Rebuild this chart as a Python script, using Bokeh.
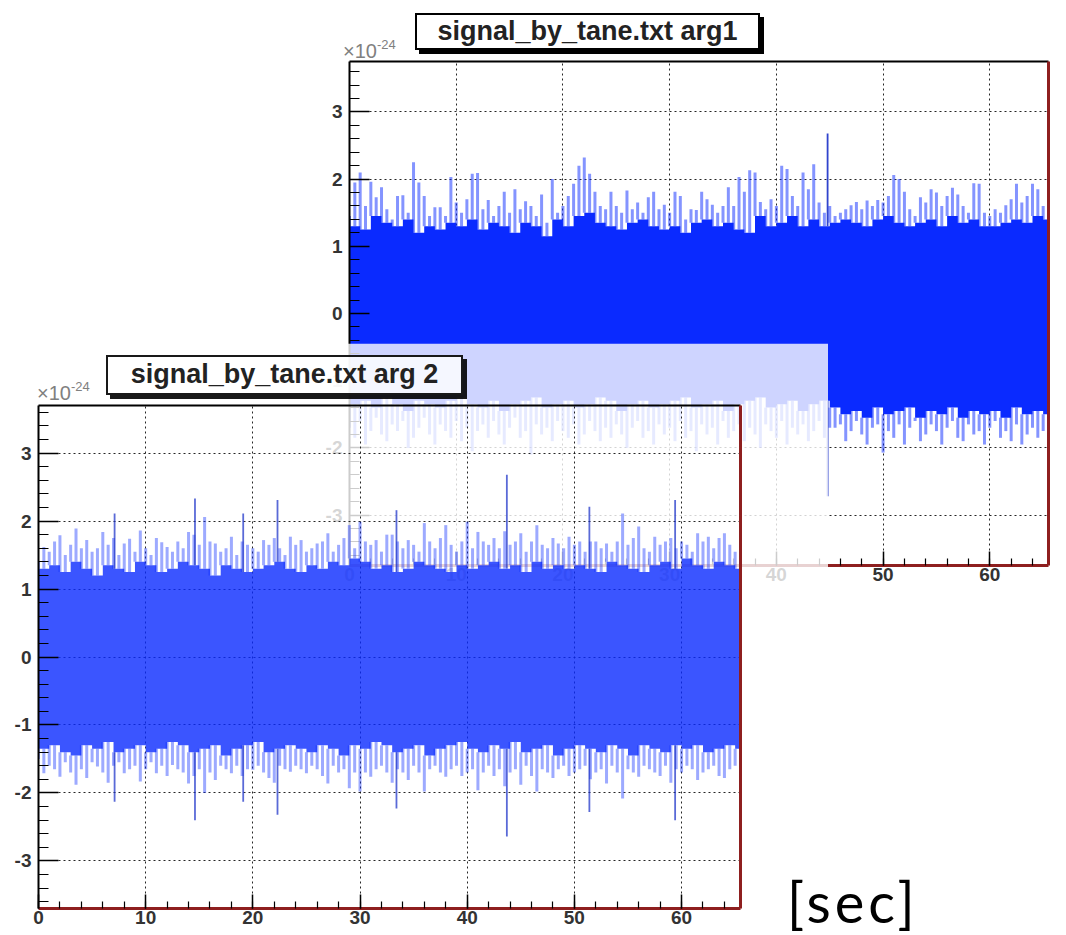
import numpy as np
from bokeh.plotting import figure
from bokeh.models import (Range1d, LinearAxis, SingleIntervalTicker, FixedTicker, Div,
                          CustomJSTickFormatter)
from bokeh.layouts import column, row
from bokeh.embed import file_html
from bokeh.resources import INLINE

# ---------------- data (amplitude in units of 1e-24, time in sec) ----------------
peak_times = np.arange(0, 65.01, 0.5)      # 131 envelope samples

arg1_upper_peak = [
    1.45, 1.95, 2.10, 1.60, 1.96, 1.73, 1.88, 1.55, 1.40, 1.75,
    1.76, 1.50, 2.25, 1.95, 1.75, 1.45, 1.58, 1.58, 1.45, 2.03,
    1.65, 1.50, 1.70, 2.08, 2.09, 1.55, 1.69, 1.45, 1.60, 1.81,
    1.50, 1.85, 1.55, 1.67, 1.60, 1.45, 1.77, 1.35, 2.00, 1.50,
    1.60, 1.75, 1.93, 2.20, 2.32, 2.08, 1.81, 1.60, 1.55, 1.81,
    1.60, 1.50, 1.83, 1.55, 1.65, 1.50, 1.73, 1.81, 1.55, 1.62,
    1.50, 1.81, 1.75, 1.40, 1.55, 1.54, 1.81, 1.70, 1.62, 1.50,
    1.60, 1.88, 1.60, 2.03, 1.81, 2.13, 2.10, 1.66, 1.55, 1.70,
    1.60, 2.20, 2.15, 1.75, 1.60, 2.10, 1.85, 2.22, 1.65, 1.50,
    1.60, 1.45, 1.50, 1.55, 1.61, 1.66, 1.55, 1.68, 1.60, 1.69,
    1.65, 1.75, 2.06, 2.00, 1.81, 1.55, 1.45, 1.73, 1.65, 1.85,
    1.80, 1.60, 1.75, 1.87, 1.77, 1.60, 1.50, 1.94, 1.93, 1.50,
    1.45, 1.55, 1.50, 1.61, 1.70, 1.93, 1.65, 1.75, 1.93, 1.85,
    1.60]
arg1_lower_peak = [
    -1.70, -1.85, -1.60, -1.95, -1.75, -1.55, -1.80, -1.90, -1.65, -1.75,
    -1.60, -2.00, -1.85, -1.70, -1.55, -1.80, -1.95, -1.65, -1.75, -1.85,
    -1.60, -1.90, -1.70, -2.05, -1.75, -1.65, -1.85, -1.60, -1.80, -1.95,
    -1.70, -1.55, -1.85, -1.75, -2.10, -1.65, -1.80, -1.70, -1.90, -1.60,
    -1.75, -1.85, -1.65, -1.95, -1.80, -1.60, -1.75, -1.90, -1.70, -1.85,
    -1.65, -1.80, -2.00, -1.70, -1.60, -1.85, -1.75, -1.95, -1.65, -1.80,
    -1.70, -1.90, -1.60, -1.85, -1.75, -2.05, -1.65, -1.80, -1.70, -1.95,
    -1.60, -1.85, -1.75, -1.65, -1.90, -1.70, -1.80, -2.00, -1.65, -1.75,
    -1.85, -1.60, -1.95, -1.70, -1.80, -1.65, -1.90, -1.75, -1.60, -1.85,
    -1.70, -1.70, -1.65, -1.90, -1.75, -1.60, -1.80, -1.95, -1.70, -1.65,
    -2.07, -1.75, -1.85, -1.65, -1.95, -1.70, -1.60, -1.90, -1.80, -1.65,
    -1.75, -1.95, -1.70, -1.60, -1.85, -1.90, -1.65, -1.80, -1.75, -1.95,
    -1.70, -1.60, -1.85, -1.75, -1.90, -1.65, -1.95, -1.80, -1.70, -1.85,
    -1.75]
arg1_upper_core = [
    1.30, 1.25, 1.45, 1.35, 1.30, 1.40, 1.20, 1.30, 1.25, 1.35,
    1.30, 1.40, 1.25, 1.35, 1.30, 1.20, 1.35, 1.30, 1.15, 1.40,
    1.30, 1.45, 1.50, 1.35, 1.30, 1.25, 1.35, 1.40, 1.30, 1.25,
    1.30, 1.20, 1.35, 1.40, 1.30, 1.35, 1.25, 1.20, 1.45, 1.30,
    1.35, 1.45, 1.30, 1.40, 1.30, 1.35, 1.40, 1.35, 1.30, 1.40,
    1.45, 1.35, 1.30, 1.35, 1.40, 1.30, 1.45, 1.35, 1.40, 1.30,
    1.30, 1.35, 1.40, 1.35, 1.45, 1.40]
arg1_lower_core = [
    -1.35, -1.30, -1.40, -1.25, -1.35, -1.45, -1.30, -1.35, -1.40, -1.30,
    -1.25, -1.35, -1.40, -1.30, -1.45, -1.35, -1.30, -1.25, -1.40, -1.35,
    -1.30, -1.40, -1.35, -1.25, -1.30, -1.45, -1.35, -1.30, -1.40, -1.35,
    -1.30, -1.25, -1.40, -1.35, -1.30, -1.45, -1.35, -1.30, -1.25, -1.40,
    -1.35, -1.30, -1.45, -1.35, -1.30, -1.40, -1.50, -1.45, -1.55, -1.40,
    -1.50, -1.45, -1.40, -1.55, -1.45, -1.50, -1.40, -1.55, -1.45, -1.50,
    -1.45, -1.55, -1.40, -1.50, -1.45, -1.50]
arg1_spike_t = [44.8]
arg1_spike_hi = [2.68]
arg1_spike_lo = [-2.72]

arg2_upper_peak = [
    1.40, 1.62, 1.55, 1.70, 1.79, 1.50, 1.65, 1.89, 1.60, 1.72,
    1.55, 1.60, 1.84, 1.65, 1.75, 1.50, 1.67, 1.74, 1.55, 1.86,
    1.60, 1.50, 1.75, 1.69, 1.62, 1.55, 1.70, 1.60, 1.84, 1.80,
    1.65, 2.06, 1.70, 1.67, 1.55, 1.60, 1.77, 1.50, 1.70, 1.65,
    1.60, 1.55, 1.72, 1.65, 1.75, 1.60, 1.50, 1.77, 1.65, 1.72,
    1.55, 1.60, 1.67, 1.70, 1.82, 1.55, 1.65, 1.75, 1.94, 1.60,
    1.99, 1.70, 1.65, 1.72, 1.55, 1.80, 1.80, 1.70, 1.60, 1.72,
    1.65, 1.55, 1.97, 1.70, 1.60, 1.75, 1.94, 1.65, 1.55, 1.70,
    1.99, 1.60, 1.84, 1.70, 1.65, 1.75, 1.60, 1.85, 1.65, 1.70,
    1.82, 1.55, 1.70, 1.94, 1.65, 1.60, 1.75, 1.67, 1.60, 1.77,
    1.65, 1.70, 1.55, 1.70, 1.70, 1.60, 1.67, 1.55, 1.70, 2.11,
    1.65, 1.75, 1.92, 1.60, 1.55, 1.77, 1.65, 1.70, 1.75, 1.60,
    1.70, 1.65, 1.55, 1.82, 1.70, 1.77, 1.60, 1.75, 1.82, 1.65,
    1.55]
arg2_lower_peak = [
    -1.50, -1.71, -1.60, -1.65, -1.76, -1.55, -1.70, -1.88, -1.65, -1.78,
    -1.55, -1.61, -1.70, -1.85, -1.60, -1.55, -1.71, -1.65, -1.60, -1.83,
    -1.65, -1.55, -1.71, -1.60, -1.75, -1.59, -1.65, -1.70, -1.86, -1.75,
    -1.65, -2.00, -1.70, -1.81, -1.60, -1.65, -1.71, -1.60, -1.75, -1.65,
    -1.66, -1.60, -1.70, -1.78, -1.85, -1.60, -1.65, -1.69, -1.60, -1.65,
    -1.71, -1.60, -1.65, -1.75, -1.86, -1.60, -1.70, -1.65, -1.93, -1.70,
    -1.98, -1.70, -1.76, -1.65, -1.60, -1.70, -1.85, -1.65, -1.70, -1.81,
    -1.60, -1.70, -1.98, -1.65, -1.60, -1.70, -1.76, -1.65, -1.60, -1.75,
    -1.70, -1.65, -1.96, -1.70, -1.60, -1.75, -1.65, -1.90, -1.70, -1.65,
    -1.88, -1.60, -1.75, -1.98, -1.65, -1.70, -1.78, -1.65, -1.60, -1.75,
    -1.70, -1.65, -1.60, -1.80, -1.70, -1.65, -1.86, -1.60, -1.70, -2.08,
    -1.65, -1.70, -1.76, -1.60, -1.65, -1.70, -1.75, -1.60, -1.85, -1.65,
    -1.70, -1.60, -1.65, -1.81, -1.70, -1.65, -1.60, -1.75, -1.78, -1.65,
    -1.60]
arg2_upper_core = [
    1.30, 1.35, 1.25, 1.40, 1.30, 1.20, 1.35, 1.30, 1.25, 1.40,
    1.35, 1.25, 1.30, 1.40, 1.35, 1.30, 1.20, 1.35, 1.30, 1.25,
    1.30, 1.35, 1.40, 1.30, 1.25, 1.35, 1.30, 1.40, 1.35, 1.45,
    1.40, 1.30, 1.35, 1.25, 1.30, 1.40, 1.35, 1.30, 1.25, 1.35,
    1.30, 1.35, 1.40, 1.30, 1.35, 1.25, 1.40, 1.30, 1.35, 1.30,
    1.35, 1.30, 1.25, 1.40, 1.35, 1.30, 1.25, 1.35, 1.40, 1.30,
    1.45, 1.35, 1.30, 1.40, 1.35, 1.30]
arg2_lower_core = [
    -1.35, -1.30, -1.40, -1.45, -1.30, -1.35, -1.25, -1.40, -1.35, -1.30,
    -1.40, -1.35, -1.25, -1.30, -1.40, -1.35, -1.30, -1.45, -1.35, -1.30,
    -1.25, -1.40, -1.35, -1.30, -1.35, -1.40, -1.30, -1.35, -1.45, -1.30,
    -1.35, -1.25, -1.30, -1.40, -1.35, -1.30, -1.45, -1.35, -1.30, -1.25,
    -1.35, -1.40, -1.30, -1.35, -1.25, -1.40, -1.35, -1.30, -1.45, -1.35,
    -1.30, -1.35, -1.40, -1.30, -1.35, -1.45, -1.30, -1.35, -1.40, -1.30,
    -1.35, -1.30, -1.40, -1.35, -1.30, -1.35]
arg2_spike_t = [7.1, 14.6, 19.1, 22.3, 33.4, 43.7, 51.4, 59.4]
arg2_spike_hi = [2.11, 2.33, 2.11, 2.31, 2.16, 2.68, 2.21, 2.31]
arg2_spike_lo = [-2.13, -2.40, -2.13, -2.32, -2.23, -2.64, -2.28, -2.40]

titles = ["signal_by_tane.txt arg1", "signal_by_tane.txt arg 2"]
exponent_base = "\u00d710"
exponent_power = "-24"
unit_text = "[sec]"

# ---------------- styling ----------------
BLUE = "#0a2aff"
SPIKE = "#1a30c8"
RED = "#8e1f1f"
FONT = "Liberation Sans"
X_MAX = 65.5


def steps(vals):
    edges = np.arange(len(vals) + 1)
    xs = np.repeat(edges, 2)[1:-1]
    ys = np.repeat(np.asarray(vals, dtype=float), 2)
    return xs, ys


def make_panel(up, lo, cu, cl, st, sh, sl, y_lim, w, h, borders, alpha):
    bl, br, bt, bb = borders
    p = figure(width=w, height=h, x_range=Range1d(0, X_MAX), y_range=Range1d(-y_lim, y_lim),
               output_backend="svg", toolbar_location=None, title=None,
               min_border_left=bl, min_border_right=br, min_border_top=bt, min_border_bottom=bb)
    p.outline_line_color = None
    p.background_fill_color = "white"
    p.background_fill_alpha = alpha
    p.border_fill_color = "white"
    p.border_fill_alpha = alpha

    xa = p.xaxis[0]
    ya = p.yaxis[0]
    xa.ticker = SingleIntervalTicker(interval=10, num_minor_ticks=5)
    ya.ticker = SingleIntervalTicker(interval=1, num_minor_ticks=5)
    fmt = CustomJSTickFormatter(code="return tick.toFixed(0);")
    for ax, tin, mtin in ((xa, 14, 7), (ya, 20, 10)):
        ax.formatter = fmt
        ax.major_tick_in = tin
        ax.major_tick_out = 0
        ax.minor_tick_in = mtin
        ax.minor_tick_out = 0
        ax.major_tick_line_color = "black"
        ax.minor_tick_line_color = "black"
        ax.major_tick_line_width = 1.5
        ax.minor_tick_line_width = 1.2
        ax.major_label_text_font = FONT
        ax.major_label_text_font_style = "bold"
        ax.major_label_text_font_size = "19px"
        ax.major_label_text_color = "#333333"
    xa.axis_line_color = RED
    xa.axis_line_width = 3
    ya.axis_line_color = "black"
    ya.axis_line_width = 2
    xa.major_label_standoff = 2
    ya.major_label_standoff = 7

    for loc, col, lw in (("above", "black", 2), ("right", RED, 3)):
        ax = LinearAxis(ticker=FixedTicker(ticks=[]), axis_line_color=col, axis_line_width=lw,
                        major_tick_in=0, major_tick_out=0, minor_tick_in=0, minor_tick_out=0,
                        major_label_text_font_size="0px", major_label_standoff=0)
        p.add_layout(ax, loc)

    p.xgrid.ticker = xa.ticker
    p.ygrid.ticker = ya.ticker
    for g in (p.xgrid, p.ygrid):
        g.grid_line_color = "black"
        g.grid_line_dash = "2 3"
        g.grid_line_width = 1
        g.grid_line_alpha = 0.85

    # solid core of the signal
    xs, yu = steps(cu)
    _, yl = steps(cl)
    p.varea(x=xs, y1=yl, y2=yu, fill_color=BLUE, fill_alpha=alpha)

    # envelope lines above / below the core
    cu_arr = np.asarray(cu)
    cl_arr = np.asarray(cl)
    idx = np.minimum(peak_times.astype(int), len(cu) - 1)
    up_arr = np.maximum(np.asarray(up), cu_arr[idx])
    lo_arr = np.minimum(np.asarray(lo), cl_arr[idx])
    p.vbar(x=peak_times, width=0.28, bottom=cu_arr[idx], top=up_arr,
           fill_color=BLUE, fill_alpha=0.5 * alpha, line_color=None)
    p.vbar(x=peak_times, width=0.28, bottom=lo_arr, top=cl_arr[idx],
           fill_color=BLUE, fill_alpha=0.5 * alpha, line_color=None)

    # strong single spikes
    st_arr = np.asarray(st)
    sidx = np.minimum(st_arr.astype(int), len(cu) - 1)
    p.segment(x0=st_arr, y0=cu_arr[sidx], x1=st_arr, y1=sh,
              line_color=SPIKE, line_width=1.8, line_alpha=0.9 * alpha)
    p.segment(x0=st_arr, y0=cl_arr[sidx], x1=st_arr, y1=sl,
              line_color=SPIKE, line_width=1.8, line_alpha=0.9 * alpha)
    return p


def title_box(text, left, top, w, h, flow_y, bg, border):
    return Div(text=text, width=w, height=h,
               margin=(top - flow_y, 0, flow_y - (top + h), left),
               styles={"border": f"2px solid {border}", "box-shadow": f"4px 4px 0 {border}",
                       "background-color": bg, "box-sizing": "border-box",
                       "font-family": FONT, "font-weight": "bold", "font-size": "27px",
                       "line-height": f"{h - 5}px", "text-align": "center",
                       "white-space": "nowrap", "color": "#222222"})


def exp_label(left, top, flow_y):
    html = (f'{exponent_base}<span style="position:relative; top:-9px; '
            f'font-size:13px;">{exponent_power}</span>')
    return Div(text=html, width=90, height=22,
               margin=(top - flow_y, 0, flow_y - (top + 22), left),
               styles={"font-family": FONT, "font-size": "20px", "line-height": "22px",
                       "color": "#808080", "white-space": "nowrap"})


# top panel (arg1)
P1_TOP = 7
p1 = make_panel(arg1_upper_peak, arg1_lower_peak, arg1_upper_core, arg1_lower_core,
                arg1_spike_t, arg1_spike_hi, arg1_spike_lo, 3.75,
                749, 588, (40, 10, 54, 30), 1.0)
p1.margin = (P1_TOP, 0, 0, 309)
FLOW1 = P1_TOP + 588

t1 = title_box(titles[0], 415, 13, 345, 37, FLOW1, "white", "black")
e1 = exp_label(343, 40, FLOW1)

# bottom panel (arg2), drawn semi-transparent over the first
p2 = make_panel(arg2_upper_peak, arg2_lower_peak, arg2_upper_core, arg2_lower_core,
                arg2_spike_t, arg2_spike_hi, arg2_spike_lo, 3.7,
                820, 590, (30, 88, 62, 25), 0.8)
ROW_TOP = 343

sec = Div(text=unit_text, width=140, height=52, margin=(531, 0, 0, -41),
          styles={"font-family": "Lato", "font-size": "56px", "line-height": "56px",
                  "letter-spacing": "4px", "color": "black", "white-space": "nowrap",
                  "overflow": "visible"})

bottom_row = row(p2, sec)
bottom_row.margin = (ROW_TOP - FLOW1, 0, 0, 8)
FLOW2 = ROW_TOP + 590

t2 = title_box(titles[1], 106, 355, 357, 40, FLOW2, "rgba(255,255,255,0.8)", "rgba(0,0,0,0.9)")
e2 = exp_label(37, 382, FLOW2)

layout = column(p1, t1, e1, bottom_row, t2, e2)

with open("out.html", "w") as f:
    f.write(file_html(layout, INLINE))
